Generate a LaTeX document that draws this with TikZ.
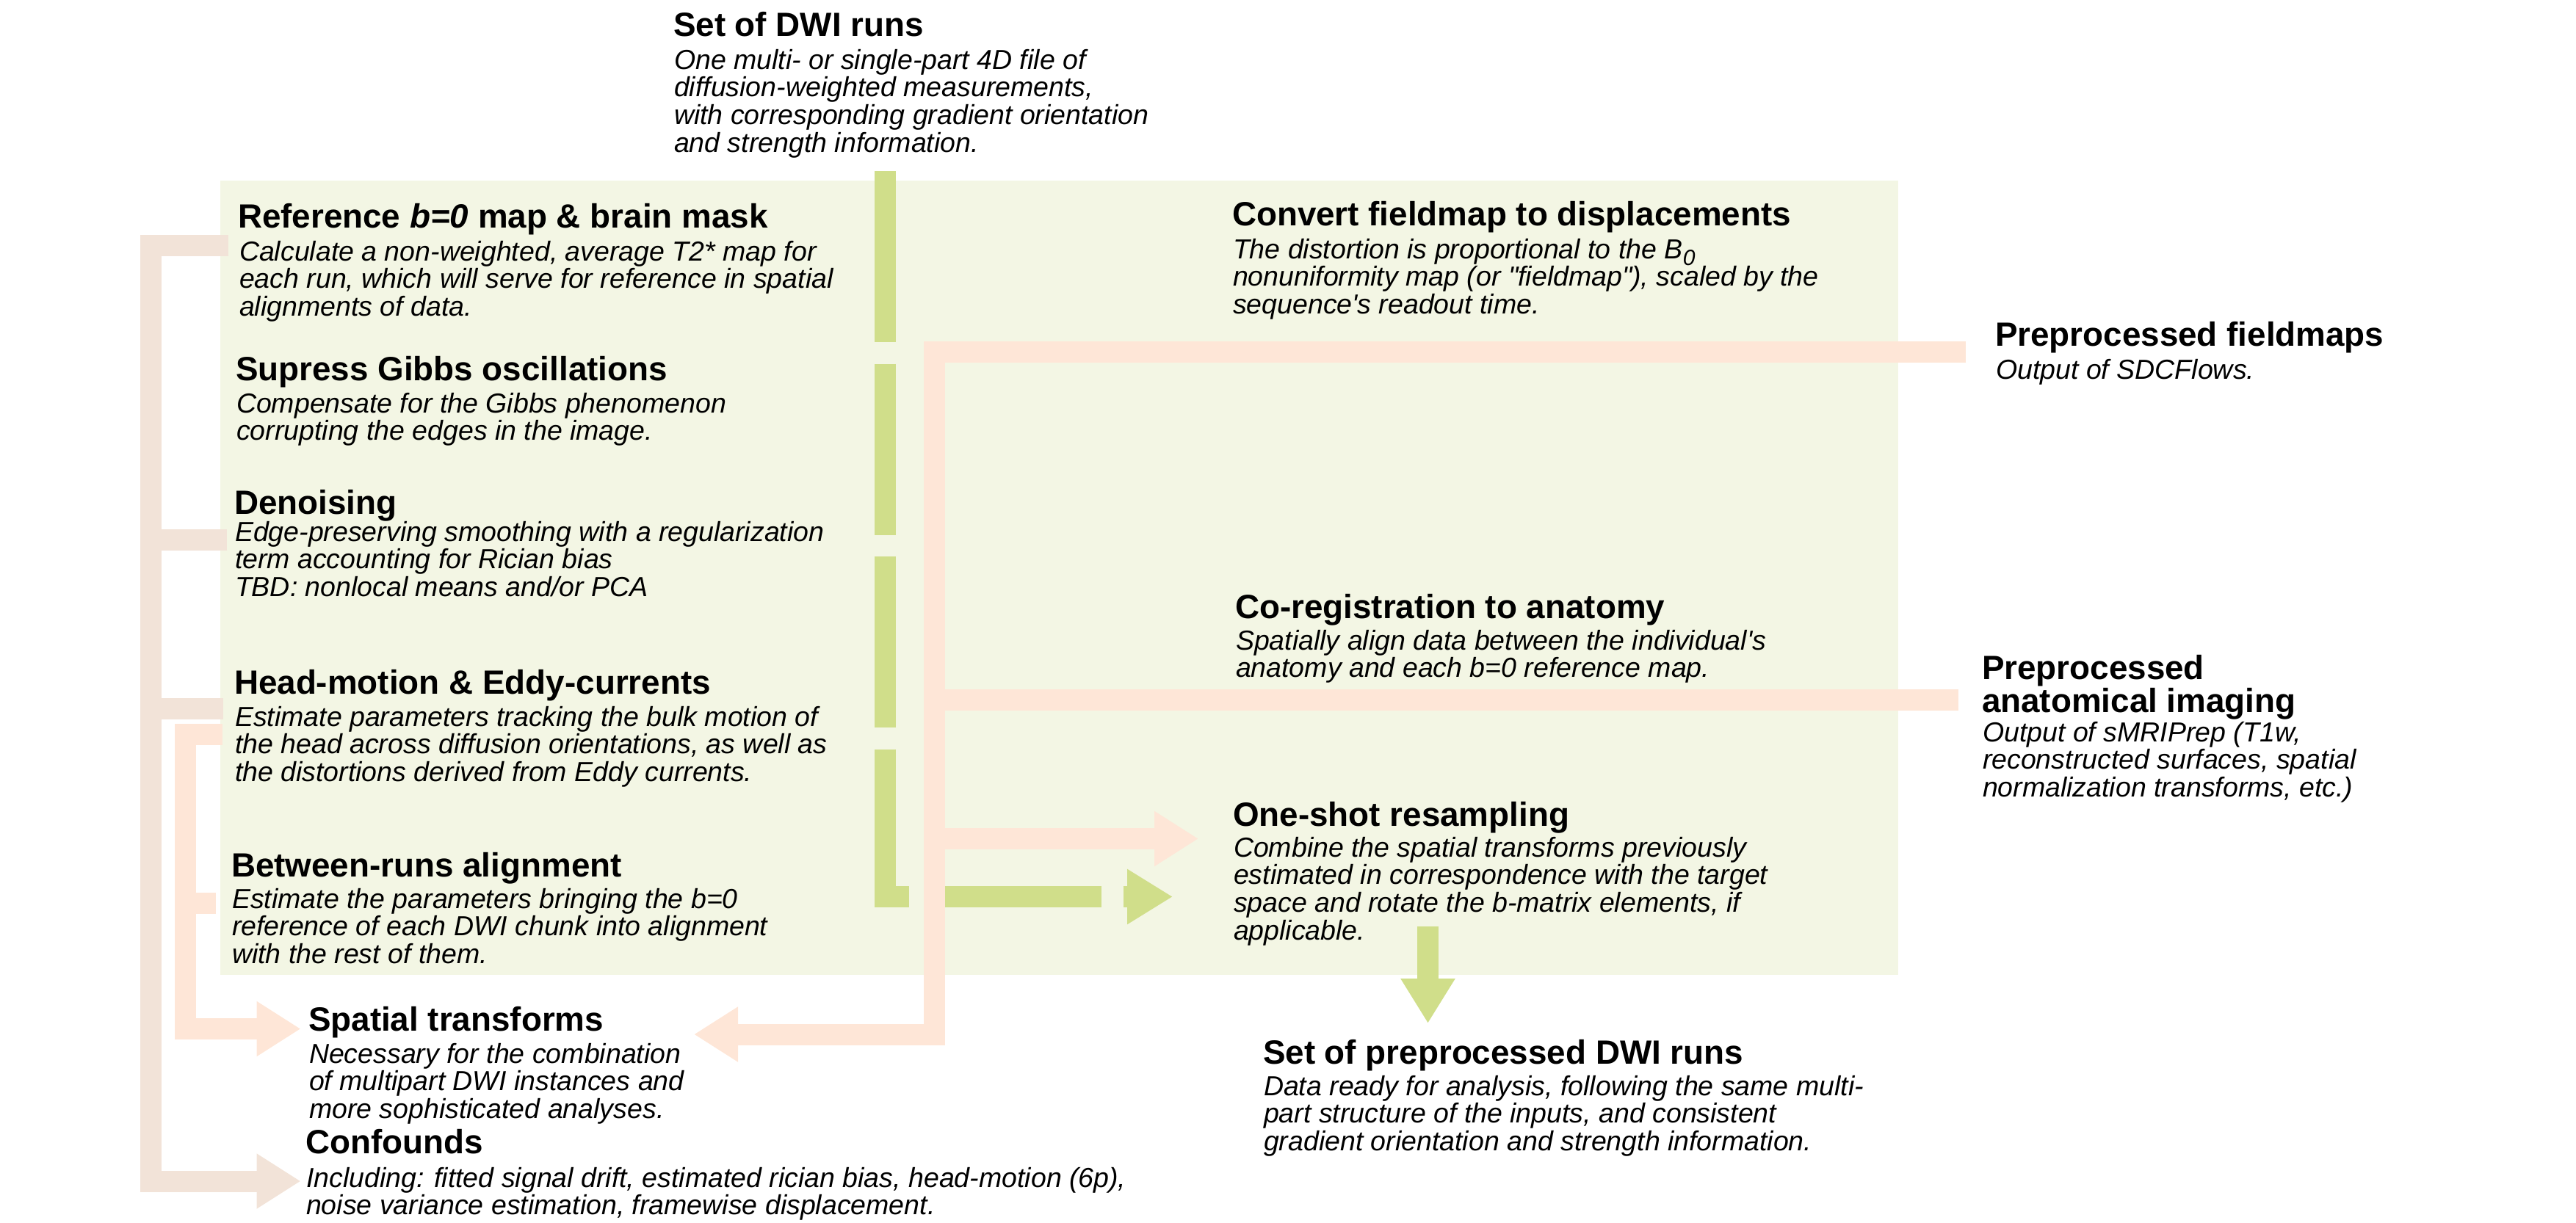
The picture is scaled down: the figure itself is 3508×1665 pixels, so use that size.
\documentclass[tikz,border=0pt]{standalone}
\usepackage{fontspec}
\setmainfont{Liberation Sans}
\usetikzlibrary{arrows.meta}
\definecolor{bgreen}{HTML}{F3F6E4}
\definecolor{lgreen}{HTML}{D0DE8A}
\definecolor{peach}{HTML}{FEE6D7}
\definecolor{tanc}{HTML}{F2E3D8}
\newcommand\mylines[1]{\begin{tabular}[t]{@{}l@{}}#1\end{tabular}}
\begin{document}
\begin{tikzpicture}[x=1pt,y=-1pt,
  ttl/.style={inner sep=0pt, outer sep=0pt, anchor=base west, font=\fontsize{45.8}{40}\selectfont\bfseries},
  dsc/.style={inner sep=0pt, outer sep=0pt, anchor=base west, font=\fontsize{37.5}{35.5}\selectfont\itshape},
  pband/.style={draw=peach, line width=29pt},
  tband/.style={draw=tanc, line width=29pt},
  gband/.style={draw=lgreen, line width=29pt},
  ptip/.style={-{Triangle[length=60pt,width=71pt]}},
  gtip/.style={-{Triangle[length=62pt,width=71pt]}},
]
\useasboundingbox (0,0) rectangle (3508,1665);
\fill[bgreen] (300,246) rectangle (2585,1328);

% ---- texts ----
\node[ttl] (dwiT) at (917,49) {Set of DWI runs};
\node[dsc] (dwiD) at (918,94) {\mylines{One multi- or single-part 4D file of\\diffusion-weighted measurements,\\with corresponding gradient orientation\\and strength information.}};

\node[ttl] (refT) at (324,310) {Reference \textit{b=0} map \& brain mask};
\node[dsc] (refD) at (326,355) {\mylines{Calculate a non-weighted, average T2* map for\\each run, which will serve for reference in spatial\\alignments of data.}};

\node[ttl] (gibT) at (321,518) {Supress Gibbs oscillations};
\node[dsc] (gibD) at (322,562) {\mylines{Compensate for the Gibbs phenomenon\\corrupting the edges in the image.}};

\node[ttl] (denT) at (319,700) {Denoising};
\node[dsc] (denD) at (320,737) {\mylines{Edge-preserving smoothing with a regularization\\term accounting for Rician bias\\TBD: nonlocal means and/or PCA}};

\node[ttl] (hmcT) at (319,945) {Head-motion \& Eddy-currents};
\node[dsc] (hmcD) at (320,989) {\mylines{Estimate parameters tracking the bulk motion of\\the head across diffusion orientations, as well as\\the distortions derived from Eddy currents.}};

\node[ttl] (btwT) at (315,1194) {Between-runs alignment};
\node[dsc] (btwD) at (316,1237) {\mylines{Estimate the parameters bringing the b=0\\reference of each DWI chunk into alignment\\with the rest of them.}};

\node[ttl] (spaT) at (420,1404) {Spatial transforms};
\node[dsc] (spaD) at (421,1448) {\mylines{Necessary for the combination\\of multipart DWI instances and\\more sophisticated analyses.}};

\node[ttl] (cnfT) at (416,1571) {Confounds};
\node[dsc] (cnfD) at (417,1617) {\mylines{Including: fitted signal drift, estimated rician bias, head-motion (6p),\\noise variance estimation, framewise displacement.}};

\node[ttl] (fmT) at (1678,307) {Convert fieldmap to displacements};
\node[dsc] (fmD) at (1679,352) {\mylines{The distortion is proportional to the B\raisebox{-9pt}{\fontsize{30}{30}\selectfont 0}\\nonuniformity map (or \textquotedbl{}fieldmap\textquotedbl{}), scaled by the\\sequence\textquotesingle s readout time.}};

\node[ttl] (coT) at (1682,842) {Co-registration to anatomy};
\node[dsc] (coD) at (1683,885) {\mylines{Spatially align data between the individual\textquotesingle s\\anatomy and each b=0 reference map.}};

\node[ttl] (osT) at (1679,1125) {One-shot resampling};
\node[dsc] (osD) at (1680,1167) {\mylines{Combine the spatial transforms previously\\estimated in correspondence with the target\\space and rotate the b-matrix elements, if\\applicable.}};

\node[ttl] (outT) at (1720,1449) {Set of preprocessed DWI runs};
\node[dsc] (outD) at (1721,1492) {\mylines{Data ready for analysis, following the same multi-\\part structure of the inputs, and consistent\\gradient orientation and strength information.}};

\node[ttl] (pfT) at (2717,471) {Preprocessed fieldmaps};
\node[dsc] (pfD) at (2718,516) {Output of SDCFlows.};

\node[ttl] (paT) at (2699,925) {\mylines{Preprocessed\\anatomical imaging}};
\node[dsc] (paD) at (2700,1010) {\mylines{Output of sMRIPrep (T1w,\\reconstructed surfaces, spatial\\normalization transforms, etc.)}};

% ---- connector end points ----
\coordinate (gTop) at (1205.5,233);
\coordinate (gCorner) at (1205.5,1221.5);
\coordinate (gEnd) at (1597,1221.5);
\coordinate (tRef) at (311,334);
\coordinate (tDen) at (309,735);
\coordinate (tHmc) at (304,965);
\coordinate (tCnf) at (409.5,1609);
\coordinate (iHmc) at (303,1000.5);
\coordinate (iBtw) at (293.5,1230.5);
\coordinate (iSpa) at (409.5,1401.5);
\coordinate (pFm) at (2677,479);
\coordinate (pAn) at (2667,953);
\coordinate (pSpa) at (945,1409);
\coordinate (pOs) at (1632,1142.5);
\coordinate (oTop) at (1944.5,1262);
\coordinate (oEnd) at (1944.5,1394);

% ---- green dashed flow ----
\draw[gband, gtip, dash pattern=on 233pt off 29.5pt] (gTop) -- (gCorner) -- (gEnd);
\draw[gband, -{Triangle[length=61pt,width=70pt]}] (oTop) -- (oEnd);

% ---- outer tan bracket ----
\draw[tband, ptip] (tRef) -- (205.5,334) -- (205.5,1609) -- (tCnf);
\draw[tband] (tDen) -- (205.5,735);
\draw[tband] (tHmc) -- (205.5,965);

% ---- inner peach bracket ----
\draw[pband, ptip] (iHmc) -- (252.5,1000.5) -- (252.5,1401.5) -- (iSpa);
\draw[pband] (iBtw) -- (252.5,1230.5);

% ---- right peach network ----
\draw[pband, ptip] (pFm) -- (1272.5,479) -- (1272.5,1409) -- (pSpa);
\draw[pband] (pAn) -- (1272.5,953);
\draw[pband, ptip] (1272.5,1142.5) -- (pOs);
\end{tikzpicture}
\end{document}
